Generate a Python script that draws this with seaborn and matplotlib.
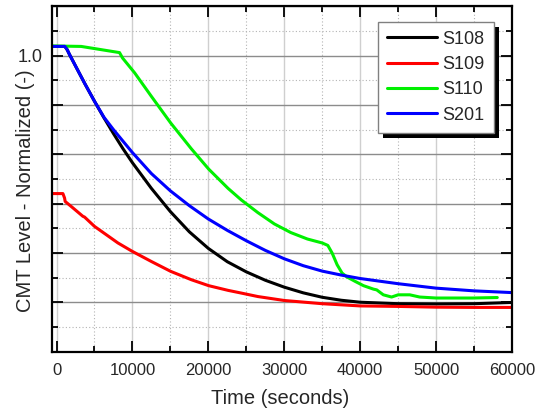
import pandas as pd
import matplotlib
matplotlib.use("Agg")
import matplotlib.pyplot as plt
from matplotlib.ticker import MultipleLocator, FuncFormatter
from matplotlib.patches import Rectangle
import seaborn as sns

# Normalized CMT level traces (time in seconds)
s108_t = [-600, 1100, 1400, 1700, 2500, 3750, 5000, 6250, 7500, 8750, 10000, 12500, 15000,
          17500, 20000, 22500, 25000, 27500, 30000, 32500, 35000, 37500, 40000, 45000, 50000,
          55000, 60000]
s108_v = [1.037, 1.037, 1.024, 1.005, 0.958, 0.885, 0.815, 0.748, 0.684, 0.623, 0.566, 0.462, 0.368,
          0.286, 0.219, 0.165, 0.124, 0.090, 0.062, 0.039, 0.021, 0.009, 0.001, -0.005, -0.006,
          -0.005, 0.000]

s109_t = [-600, 840, 1060, 1140, 1930, 3470, 3690, 5010, 8090, 9980, 12490, 15040, 17770,
          20050, 22600, 24350, 26520, 30000, 35000, 40000, 45000, 50000, 55000, 60000]
s109_v = [0.441, 0.441, 0.423, 0.409, 0.389, 0.349, 0.346, 0.308, 0.241, 0.207, 0.166, 0.126, 0.092,
          0.068, 0.049, 0.038, 0.024, 0.008, -0.005, -0.014, -0.016, -0.019, -0.020, -0.020]

s110_t = [-600, 3250, 8300, 8700, 10290, 12490, 15040, 17770, 20050, 22600, 24350, 26520, 28700,
          30870, 33050, 35000, 35740, 36310, 36960, 37620, 38270, 39360, 40440, 41750, 42180,
          43050, 44140, 45010, 46530, 47840, 50010, 54800, 58060]
s110_v = [1.039, 1.037, 1.012, 0.990, 0.930, 0.835, 0.727, 0.622, 0.540, 0.462, 0.415, 0.364, 0.318,
          0.283, 0.257, 0.241, 0.231, 0.200, 0.153, 0.119, 0.103, 0.085, 0.068, 0.054, 0.051,
          0.031, 0.022, 0.031, 0.031, 0.022, 0.018, 0.018, 0.020]

s201_t = [-600, 1100, 1400, 1700, 2500, 3750, 5000, 6250, 7500, 10000, 12500, 15000, 17500,
          20000, 22500, 25000, 27500, 30000, 32500, 35000, 37500, 40000, 45000, 50000, 55000, 60000]
s201_v = [1.037, 1.037, 1.024, 1.005, 0.958, 0.885, 0.815, 0.750, 0.700, 0.607, 0.522, 0.452, 0.392,
          0.338, 0.292, 0.250, 0.211, 0.177, 0.149, 0.127, 0.111, 0.097, 0.076, 0.058, 0.047, 0.040]

series = {"S108": (s108_t, s108_v), "S109": (s109_t, s109_v),
          "S110": (s110_t, s110_v), "S201": (s201_t, s201_v)}
colors = {"S108": "#000000", "S109": "#ff0000", "S110": "#00f000", "S201": "#0000ff"}

df = pd.concat([pd.DataFrame({"t": t, "v": v, "run": name}) for name, (t, v) in series.items()],
               ignore_index=True)

sns.set_style("white")
plt.rcParams["font.family"] = ["Liberation Sans", "DejaVu Sans"]

fig = plt.figure(figsize=(5.47, 4.12), dpi=100)
ax = fig.add_axes([0.095, 0.146, 0.841, 0.839])

sns.lineplot(data=df, x="t", y="v", hue="run", palette=colors, sort=False,
             estimator=None, linewidth=2.2, ax=ax, legend=False)

ax.set_xlim(-600, 60000)
ax.set_ylim(-0.2, 1.2)

ax.xaxis.set_major_locator(MultipleLocator(10000))
ax.xaxis.set_minor_locator(MultipleLocator(5000))
ax.yaxis.set_major_locator(MultipleLocator(0.2))
ax.yaxis.set_minor_locator(MultipleLocator(0.1))
ax.yaxis.set_major_formatter(FuncFormatter(lambda v, p: "1.0" if abs(v - 1.0) < 1e-6 else ""))

ax.grid(False)
ax.grid(which="major", axis="y", color="#8c8c8c", linewidth=1.0, linestyle="-", zorder=0)
ax.grid(which="major", axis="x", color="#cfcfcf", linewidth=1.0, linestyle="-", zorder=0)
ax.grid(which="minor", axis="both", color="#b4b4b4", linewidth=0.8, linestyle=(0, (1, 2)), zorder=0)
ax.set_axisbelow(True)

for sp in ax.spines.values():
    sp.set_color("black")
    sp.set_linewidth(1.6)

ax.tick_params(which="both", direction="in", top=True, right=True, bottom=True, left=True,
               color="black", width=1.3)
ax.tick_params(which="major", length=8, labelsize=12, pad=8)
ax.tick_params(which="minor", length=4)
ax.tick_params(axis="y", which="major", labelsize=13, pad=7)

ax.set_xlabel("Time (seconds)", fontsize=14.5)
ax.set_ylabel("CMT Level - Normalized (-)", fontsize=14.5)
ax.xaxis.set_label_coords(0.497, -0.108)
ax.yaxis.set_label_coords(-0.036, 0.465)

handles = [plt.Line2D([], [], color=colors[n], linewidth=2.2) for n in series]
leg = ax.legend(handles, list(series), loc="upper right", bbox_to_anchor=(0.96, 0.955),
                fontsize=13, frameon=True, fancybox=False, framealpha=1.0, edgecolor="#808080",
                handlelength=2.75, handletextpad=0.3, labelspacing=0.46, borderpad=0.5,
                borderaxespad=0.0)
leg.get_frame().set_linewidth(1.0)
leg.set_zorder(10)

# solid drop shadow behind the legend box
fig.canvas.draw()
bb = leg.get_window_extent().transformed(fig.transFigure.inverted())
dx, dy = 5 / 547, 5 / 412
shadow = Rectangle((bb.x0 + dx, bb.y0 - dy), bb.width, bb.height, transform=fig.transFigure,
                   facecolor="black", edgecolor="none", zorder=9)
ax.add_artist(shadow)
shadow.set_clip_on(False)

fig.savefig("out.png", dpi=100)
